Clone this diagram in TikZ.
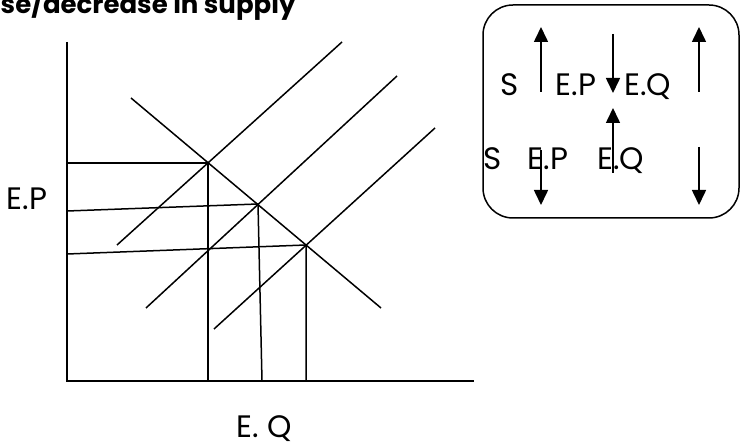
\documentclass[tikz,border=0pt]{standalone}
\usepackage{fontspec}
\setmainfont{Poppins}
\usepackage{tikz}
\usetikzlibrary{arrows.meta, positioning, calc}

\begin{document}
\begin{tikzpicture}[x=1pt, y=-1pt, line width=1.5pt,
    lbl/.style={font=\fontsize{31}{31}\selectfont, inner sep=0pt},
    move/.style={-{Triangle[length=15pt, width=14pt]}, line width=1.6pt}
]
\useasboundingbox (0,0) rectangle (740,446);

\node[anchor=base west, inner sep=0pt, font=\bfseries\fontsize{26}{26}\selectfont] (title) at (0,14) {se/decrease in supply};

% axes
\coordinate (ytop) at (67,42);
\coordinate (O) at (67,381);
\coordinate (xend) at (474,381);
\draw (ytop) -- (O) -- (xend);

% equilibrium points
\coordinate (e1) at (208,163);
\coordinate (e2) at (258,204);
\coordinate (e3) at (306,245);

% demand and supply curves
\coordinate (d1) at (131,98);
\coordinate (d2) at (381,308);
\draw (d1) -- (d2);
\coordinate (s1a) at (117,245);
\coordinate (s1b) at (342,42);
\coordinate (s2a) at (146,308);
\coordinate (s2b) at (397,76);
\coordinate (s3a) at (214,329);
\coordinate (s3b) at (435,128);
\draw (s1a) -- (s1b);
\draw (s2a) -- (s2b);
\draw (s3a) -- (s3b);

% price and quantity lines
\coordinate (p1) at (67,163);
\coordinate (p2) at (67,211);
\coordinate (p3) at (67,254);
\coordinate (q1) at (208,381);
\coordinate (q2) at (262,381);
\coordinate (q3) at (306,381);
\draw (p1) -- (e1) -- (q1);
\draw (p2) -- (e2) -- (q2);
\draw (p3) -- (e3) -- (q3);

\node[lbl] (ep) at (27,199) {E.P};
\node[lbl] (eq) at (264,429) {E. Q};

% summary box
\draw[rounded corners=30pt] (483,5) rectangle (739,218);

\node[lbl] (sup1) at (510,85) {S};
\node[lbl] (ep1) at (576,85) {E.P};
\node[lbl] (eq1) at (648,87) {E.Q};
\node[lbl] (sup2) at (493,159) {S};
\node[lbl] (ep2) at (548,159) {E.P};
\node[lbl] (eq2) at (621,161) {E.Q};

\coordinate (a1) at (541,92);  \coordinate (b1) at (541,27);
\coordinate (a2) at (613,34);  \coordinate (b2) at (613,93);
\coordinate (a3) at (699,92);  \coordinate (b3) at (699,27);
\coordinate (a4) at (613,173); \coordinate (b4) at (613,108);
\coordinate (a5) at (541,150); \coordinate (b5) at (541,205);
\coordinate (a6) at (699,147); \coordinate (b6) at (699,205);
\foreach \i in {1,...,6}
    \draw[move] (a\i) -- (b\i);
\end{tikzpicture}
\end{document}
